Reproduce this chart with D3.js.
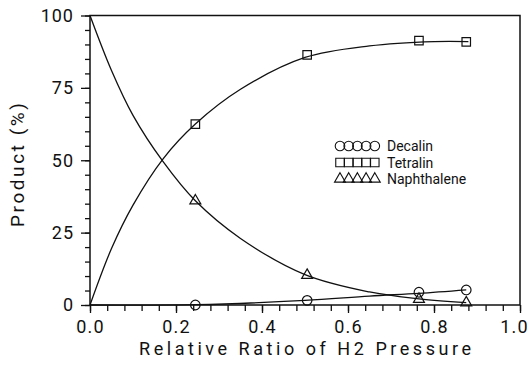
<!DOCTYPE html>
<html>
<head>
<meta charset="utf-8">
<script src="https://cdn.jsdelivr.net/npm/d3@7"></script>
<style>
  body { margin: 0; background: #fff; }
  svg text { font-family: "Roboto", "DejaVu Sans", sans-serif; font-weight: 400; fill: #111; }
</style>
</head>
<body>
<div id="chart"></div>
<script>
// measured points
const ratio = [0.245, 0.505, 0.765, 0.875];
const decalin = [0, 1.6, 4.4, 5.2];
const tetralin = [62.5, 86.4, 91.3, 90.9];
const naphthalene = [36, 10.3, 2, 0.8];

// fitted curves
const tetralinFitX = [0, 0.05, 0.1, 0.17, 0.245, 0.35, 0.5, 0.65, 0.8, 0.88];
const tetralinFitY = [0, 19.5, 34.5, 50.5, 62.5, 74.5, 85.5, 89.5, 91, 91];
const naphFitX = [0, 0.05, 0.1, 0.17, 0.245, 0.35, 0.5, 0.65, 0.76, 0.875];
const naphFitY = [100, 81, 65.5, 49.5, 36, 23, 10.5, 4.5, 2.2, 0.8];
const decalinFitX = [0, 0.245, 0.5, 0.65, 0.765, 0.875];
const decalinFitY = [0, 0.1, 1.6, 3.1, 4.0, 5.2];

const xTicks = [0, 0.2, 0.4, 0.6, 0.8, 1.0];
const yTicks = [0, 25, 50, 75, 100];
const legendNames = ["Decalin", "Tetralin", "Naphthalene"];

const W = 531, H = 367;
const svg = d3.select("#chart").append("svg")
    .attr("width", W).attr("height", H);

const x = d3.scaleLinear().domain([0, 1]).range([90, 520]);
const y = d3.scaleLinear().domain([0, 100]).range([305, 15.5]);

// frame
svg.append("rect")
    .attr("x", x(0)).attr("y", y(100))
    .attr("width", x(1) - x(0)).attr("height", y(0) - y(100))
    .attr("fill", "none").attr("stroke", "#111").attr("stroke-width", 1.5);

// x axis: minor ticks every 0.04, labels every 0.2
const xAxis = svg.append("g")
    .attr("transform", "translate(0," + y(0) + ")")
    .call(d3.axisBottom(x)
        .tickValues(d3.range(0, 25.5).map(i => i * 0.04))
        .tickSize(6)
        .tickFormat(""));
xAxis.select(".domain").remove();
xAxis.selectAll("line").attr("stroke", "#111").attr("stroke-width", 1.3);

const xLab = svg.append("g")
    .attr("transform", "translate(0," + y(0) + ")")
    .call(d3.axisBottom(x).tickValues(xTicks).tickSize(8).tickFormat(d3.format(".1f")));
xLab.select(".domain").remove();
xLab.selectAll("line").attr("stroke", "#111").attr("stroke-width", 1.3);
xLab.selectAll("text").attr("font-size", 18).attr("dy", "0.95em")
    .attr("letter-spacing", 1.2).attr("fill", "#111")
    .attr("x", d => d === 1 ? -6 : 0);

// y axis: minor ticks every 5, labels every 25
const yAxis = svg.append("g")
    .attr("transform", "translate(" + x(0) + ",0)")
    .call(d3.axisLeft(y).tickValues(d3.range(0, 101, 5)).tickSize(5).tickFormat(""));
yAxis.select(".domain").remove();
yAxis.selectAll("line").attr("stroke", "#111").attr("stroke-width", 1.3);

const yLab = svg.append("g")
    .attr("transform", "translate(" + x(0) + ",0)")
    .call(d3.axisLeft(y).tickValues(yTicks).tickSize(9).tickFormat(d3.format("d")));
yLab.select(".domain").remove();
yLab.selectAll("line").attr("stroke", "#111").attr("stroke-width", 1.3);
yLab.selectAll("text").attr("font-size", 18).attr("x", -16)
    .attr("letter-spacing", 1).attr("fill", "#111");

// axis titles
svg.append("text")
    .attr("x", x(0.5)).attr("y", 355)
    .attr("text-anchor", "middle")
    .attr("font-size", 18)
    .attr("textLength", 332).attr("lengthAdjust", "spacing")
    .text("Relative Ratio of H2 Pressure");

svg.append("text")
    .attr("transform", "translate(24,165) rotate(-90)")
    .attr("text-anchor", "middle")
    .attr("font-size", 19)
    .attr("textLength", 124).attr("lengthAdjust", "spacing")
    .text("Product  (%)");

// fit curves
const line = d3.line().x(d => x(d[0])).y(d => y(d[1])).curve(d3.curveCatmullRom.alpha(0.5));
const fits = [
    [decalinFitX, decalinFitY],
    [tetralinFitX, tetralinFitY],
    [naphFitX, naphFitY]
];
fits.forEach(f => {
    svg.append("path")
        .datum(d3.zip(f[0], f[1]))
        .attr("d", line)
        .attr("fill", "none")
        .attr("stroke", "#111")
        .attr("stroke-width", 1.3);
});

// markers
const sym = [
    d3.symbol().type(d3.symbolCircle).size(72),
    d3.symbol().type(d3.symbolSquare).size(72),
    d3.symbol().type(d3.symbolTriangle).size(52)
];
const series = [decalin, tetralin, naphthalene];
series.forEach((s, i) => {
    svg.append("g").selectAll("path")
        .data(d3.zip(ratio, s))
        .enter()
        .append("path")
        .attr("transform", d => "translate(" + x(d[0]) + "," + y(d[1]) + ")")
        .attr("d", sym[i])
        .attr("fill", "none")
        .attr("stroke", "#111")
        .attr("stroke-width", 1.2);
});

// legend
const legend = svg.append("g").attr("transform", "translate(340,146)");
legendNames.forEach((name, i) => {
    const row = legend.append("g").attr("transform", "translate(0," + (i * 16.5) + ")");
    for (let k = 0; k < 5; k++) {
        row.append("path")
            .attr("transform", "translate(" + (k * 8.7) + ",0)")
            .attr("d", sym[i])
            .attr("fill", "none")
            .attr("stroke", "#111")
            .attr("stroke-width", 1.1);
    }
    row.append("text")
        .attr("x", 47).attr("y", 5)
        .attr("font-size", 14)
        .text(name);
});
</script>
</body>
</html>
